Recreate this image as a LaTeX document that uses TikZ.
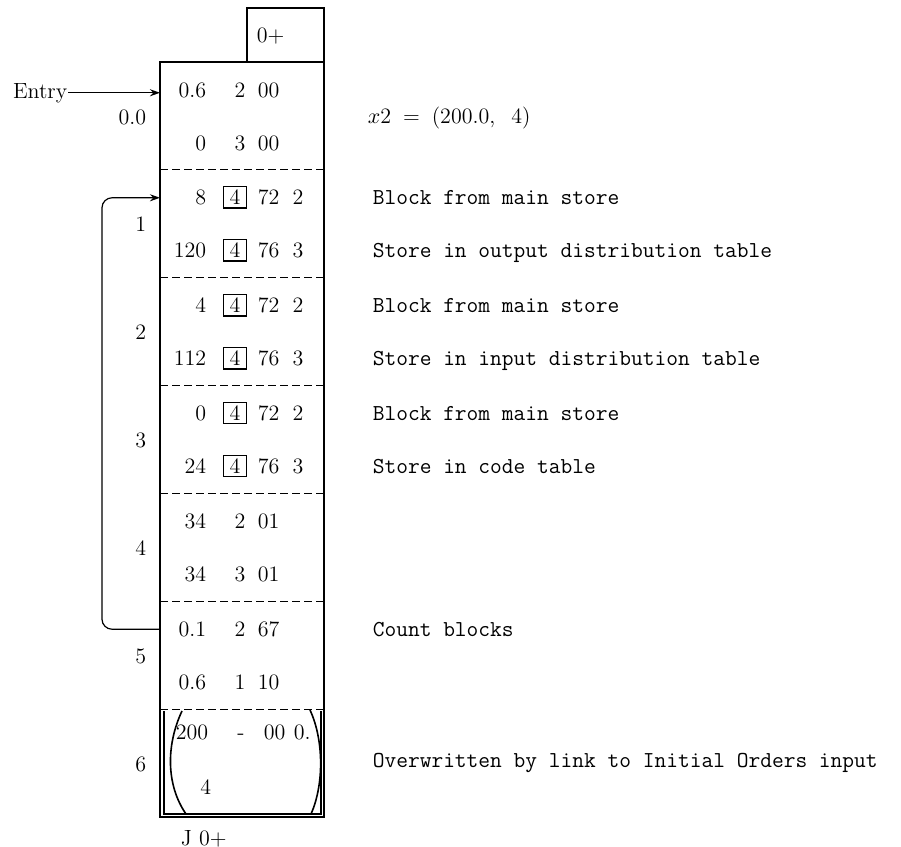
\documentclass[tikz,border=0pt]{standalone}
\usepackage{tikz}
\usetikzlibrary{arrows.meta}
\newcommand{\numfont}{\fontsize{11}{13}\selectfont}
\newcommand{\typfont}{\fontsize{11.4}{13}\selectfont\ttfamily}
\newcommand{\keyd}[1]{{\setlength{\fboxsep}{1.3pt}\setlength{\fboxrule}{0.6pt}\fbox{\makebox[8pt]{#1}}}}

\begin{document}
\begin{tikzpicture}[x=0.5pt,y=-0.5pt,line width=0.8pt,font=\numfont,
  cell/.style={inner sep=0pt,anchor=base},
  num/.style={inner sep=0pt,anchor=base east},
  fld/.style={inner sep=0pt,anchor=base west},
  cmt/.style={inner sep=0pt,anchor=base west,font=\typfont},
  sep/.style={line width=0.6pt,dash pattern=on 4pt off 2pt},
  link/.style={line width=0.6pt,-{Stealth[length=5pt,width=3.5pt]}}]
  \useasboundingbox (0,0) rectangle (901,847);
  \coordinate (edge) at (160,0);
  \coordinate (back) at (102,0);
  \draw (247,8) rectangle (324,62);
  \node[fld] (tag) at (256,42) {0+};
  \draw (160,62) rectangle (324,817);
  \foreach \k in {1,...,6}
    \draw[sep] (160,62+107.86*\k) -- (324,62+107.86*\k);
  \foreach \k/\lbl in {0/0.0,1/1,2/2,3/3,4/4,5/5,6/6}
    \node[num] (idx\k) at (147,124+107.86*\k) {\lbl};
  \foreach \k/\a/\b/\c/\d/\e/\f in {0/0.6/2/00/0/3/00, 4/34/2/01/34/3/01, 5/0.1/2/67/0.6/1/10} {
    \node[num] (a\k) at (207,97+107.86*\k) {\a};
    \node[cell] (b\k) at (240,97+107.86*\k) {\b};
    \node[fld] (c\k) at (257,97+107.86*\k) {\c};
    \node[num] (d\k) at (207,150+107.86*\k) {\d};
    \node[cell] (e\k) at (240,150+107.86*\k) {\e};
    \node[fld] (f\k) at (257,150+107.86*\k) {\f};
  }
  \foreach \k/\a/\d in {1/8/120, 2/4/112, 3/0/24} {
    \node[num] (a\k) at (207,97+107.86*\k) {\a};
    \node[cell] (b\k) at (235,97+107.86*\k) {\keyd{4}};
    \node[fld] (c\k) at (257,97+107.86*\k) {72};
    \node[cell] (g\k) at (298,97+107.86*\k) {2};
    \node[num] (d\k) at (207,150+107.86*\k) {\d};
    \node[cell] (e\k) at (235,150+107.86*\k) {\keyd{4}};
    \node[fld] (f\k) at (257,150+107.86*\k) {76};
    \node[cell] (h\k) at (298,150+107.86*\k) {3};
  }
  \node[fld] (a6) at (175,739) {200};
  \node[cell] (b6) at (241,739) {-};
  \node[fld] (c6) at (263,739) {00};
  \node[fld] (g6) at (293,739) {0.};
  \node[num] (d6) at (212,794) {4};
  \draw[line width=0.6pt] (164,711) -- (164,814) -- (321,814) -- (321,711);
  \draw (182,711) .. controls (166,745) and (166,785) .. (186,814);
  \draw (310,710) .. controls (324,740) and (324,785) .. (311,814);
  \node[fld] (xtwo) at (367,123) {$x$2\hspace{6pt}=\hspace{6pt}(200.0,\hspace{8pt}4)};
  \foreach \k/\dst in {1/output distribution table, 2/input distribution table, 3/code table} {
    \node[cmt] (blk\k) at (372,97+107.86*\k) {Block from main store};
    \node[cmt] (sto\k) at (372,150+107.86*\k) {Store in \dst};
  }
  \node[cmt] (cnt) at (372,97+107.86*5) {Count blocks};
  \node[cmt] (ovw) at (372,767) {Overwritten by link to Initial Orders input};
  \node[num] (entry) at (68,98) {Entry};
  \draw[link] (entry.east) -- (entry.east -| edge);
  \draw[link,rounded corners=5pt] (a5.west -| edge) -- (a5.west -| back) -- (a1.west -| back) -- (a1.west -| edge);
  \node[fld] (jump) at (180,845) {J 0+};
\end{tikzpicture}
\end{document}
